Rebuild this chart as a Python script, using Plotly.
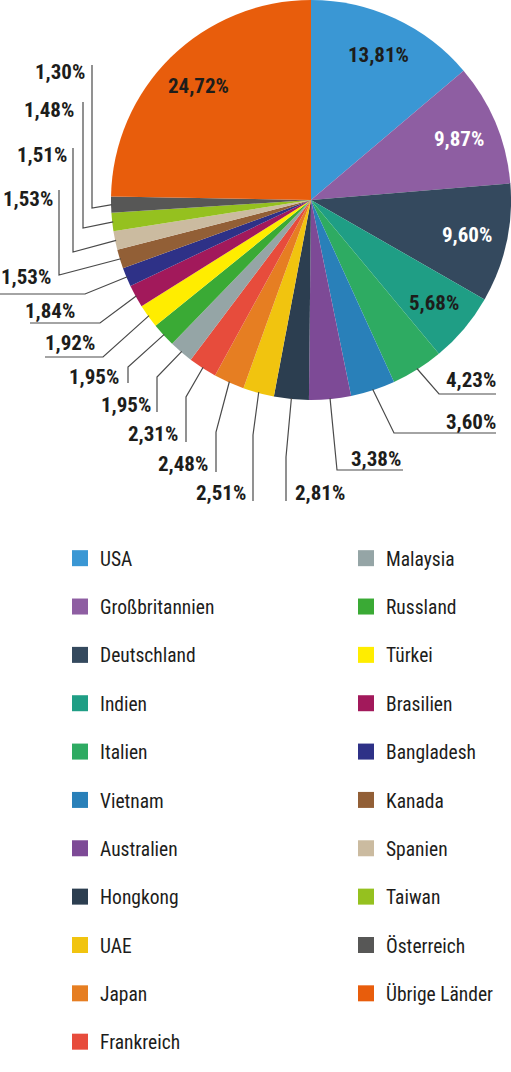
import math
import plotly.graph_objects as go

# Länder im Uhrzeigersinn ab 12 Uhr
laender = ["USA", "Großbritannien", "Deutschland", "Indien", "Italien", "Vietnam",
           "Australien", "Hongkong", "UAE", "Japan", "Frankreich", "Malaysia",
           "Russland", "Türkei", "Brasilien", "Bangladesh", "Kanada", "Spanien",
           "Taiwan", "Österreich", "Übrige Länder"]
anteile = [13.81, 9.87, 9.60, 5.68, 4.23, 3.60, 3.38, 2.81, 2.51, 2.48, 2.31, 1.95,
           1.95, 1.92, 1.84, 1.53, 1.53, 1.51, 1.48, 1.30, 24.72]
farben = ["#3a97d4", "#8e5ea2", "#34495e", "#1f9e85", "#2eab62", "#2980b9",
          "#7d4a96", "#2c3e50", "#f1c40f", "#e67e22", "#e74c3c", "#95a5a6",
          "#3aaa35", "#ffed00", "#a2195b", "#2e3187", "#925f36", "#cbbba0",
          "#95c11f", "#575756", "#e85d0c"]

W, H = 511, 1072
CX, CY, R = 311, 200, 200          # Kreis in Pixeln (aus der Domain unten)
schrift = "Roboto Condensed"
dunkel = "#1d1d1b"
linie = "#4a4a4a"

# Beschriftungen außen: Textmitte und Knickpunkte der Führungslinie (Pixel)
aussen = {
    "Italien":    ((471, 380), [(439, 394), (496, 394)]),
    "Vietnam":    ((471, 422), [(394, 433), (496, 433)]),
    "Australien": ((376, 459), [(337, 470), (403, 470)]),
    "Hongkong":   ((320, 493), [(286, 457), (286, 501)]),
    "UAE":        ((221, 493), [(253, 435), (253, 501)]),
    "Japan":      ((183, 464), [(216, 432), (216, 472)]),
    "Frankreich": ((153, 434), [(186, 397), (186, 442)]),
    "Malaysia":   ((126, 405), [(157, 377), (157, 412)]),
    "Russland":   ((94, 377),  [(128, 367), (128, 383)]),
    "Türkei":     ((70, 343),  [(103, 357), (45, 357)]),
    "Brasilien":  ((50, 311),  [(100, 323), (30, 323)]),
    "Bangladesh": ((26, 277),  [(85, 294), (0, 294)]),
    "Kanada":     ((28, 199),  [(59, 275), (59, 190)]),
    "Spanien":    ((42, 155),  [(73, 252), (73, 148)]),
    "Taiwan":     ((49, 110),  [(83, 228), (83, 102)]),
    "Österreich": ((60, 72),   [(92, 208), (92, 65)]),
}


def fx(x):
    return x / W


def fy(y):
    return 1 - y / H


def rand(winkel, r):
    return CX + r * math.sin(winkel), CY - r * math.cos(winkel)


def txt(v):
    return f"{v:.2f}".replace(".", ",") + "%"


fig = go.Figure()
fig.add_trace(go.Pie(
    labels=laender, values=anteile, sort=False, direction="clockwise", rotation=0,
    marker=dict(colors=farben, line=dict(width=0)), textinfo="none",
    showlegend=False, hoverinfo="label+percent",
    domain=dict(x=[(CX - R) / W, (CX + R) / W], y=[fy(CY + R), fy(CY - R)]),
))

summe = sum(anteile)
kum = 0
for land, wert in zip(laender, anteile):
    mitte = 2 * math.pi * (kum + wert / 2) / summe
    kum += wert
    if land in aussen:
        (tx, ty), knicke = aussen[land]
        punkte = [rand(mitte, R - 1)] + knicke
        pfad = "M " + " L ".join(f"{fx(x):.5f},{fy(y):.5f}" for x, y in punkte)
        fig.add_shape(type="path", path=pfad, xref="paper", yref="paper",
                      line=dict(color=linie, width=1.2))
        farbe = dunkel
    else:
        tx, ty = rand(mitte, 0.8 * R)
        farbe = "white" if land in ("Großbritannien", "Deutschland") else dunkel
    fig.add_annotation(x=fx(tx), y=fy(ty), xref="paper", yref="paper",
                       xanchor="center", yanchor="middle",
                       text=txt(wert), showarrow=False,
                       font=dict(family=schrift, size=21, weight="bold", color=farbe))

# Legende in zwei Spalten über Hilfsspuren
for i, (land, farbe) in enumerate(zip(laender, farben)):
    fig.add_trace(go.Scatter(
        x=[None], y=[None], mode="markers", name=land,
        marker=dict(symbol="square", size=16, color=farbe, line=dict(width=0)),
        legend="legend" if i < 11 else "legend2", legendgroup=land,
    ))

leg = dict(font=dict(family=schrift, size=19.5, color=dunkel), tracegroupgap=20,
           bgcolor="rgba(0,0,0,0)", yanchor="top", xanchor="left")
fig.update_layout(
    width=W, height=H, margin=dict(l=0, r=0, t=0, b=0),
    paper_bgcolor="white", plot_bgcolor="white",
    xaxis=dict(visible=False), yaxis=dict(visible=False),
    legend=dict(leg, x=fx(60), y=fy(539)),
    legend2=dict(leg, x=fx(346), y=fy(539)),
)

fig.write_html("out.html", config={"displayModeBar": False},
               post_script="document.body.style.margin='0';")
